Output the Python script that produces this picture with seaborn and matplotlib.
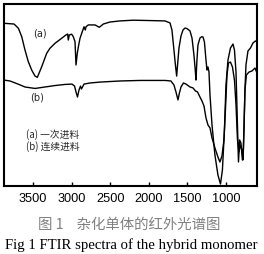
import matplotlib
matplotlib.use("Agg")
import matplotlib.pyplot as plt
import seaborn as sns
import pandas as pd

# ---- data (wavenumber cm-1, relative transmittance) ----
wn_a = [3876, 3746, 3690, 3646, 3604, 3561, 3517, 3474, 3444, 3387, 3323, 3280,
        3215, 3128, 3073, 3051, 3043, 3030, 2999, 2978, 2956, 2943, 2926, 2908,
        2891, 2869, 2839, 2823, 2813, 2784, 2697, 2641, 2589, 2503, 2373, 2201,
        1985, 1790, 1725, 1700, 1674, 1655, 1639, 1622, 1609, 1583, 1557, 1531,
        1505, 1466, 1440, 1415, 1398, 1389, 1376, 1363, 1337, 1315, 1298, 1279,
        1259, 1246, 1233, 1220, 1207, 1181, 1143, 1104, 1071, 1046, 1020, 1000,
        974, 942, 909, 890, 870, 853, 838, 823, 806, 787, 774, 754, 741, 715,
        683, 650, 618, 598]
t_a = [89.4, 89.0, 86.7, 82.0, 74.7, 68.3, 63.7, 60.4, 59.7, 65.6, 72.9, 75.7,
       78.4, 81.2, 83.0, 83.5, 80.2, 83.0, 83.4, 82.0, 79.3, 66.5, 73.1, 77.5,
       81.2, 83.9, 87.5, 85.7, 87.5, 88.5, 88.5, 87.2, 89.0, 90.1, 90.7, 91.1,
       90.9, 90.7, 89.6, 85.7, 74.7, 66.5, 60.4, 69.2, 75.8, 82.4, 85.7, 86.8,
       86.5, 85.2, 81.3, 72.0, 63.7, 58.2, 69.2, 77.5, 81.3, 82.0, 81.9, 79.1,
       69.2, 63.7, 65.4, 62.6, 50.0, 33.5, 17.0, 6.0, 1.1, 8.8, 30.8, 55.5,
       69.2, 75.8, 78.0, 74.7, 62.6, 36.3, 13.2, 25.3, 23.6, 14.3, 19.8, 52.8,
       66.5, 74.2, 75.8, 78.6, 79.7, 79.1]

wn_b = [3876, 3798, 3694, 3604, 3474, 3345, 3215, 3086, 2995, 2962, 2943, 2924,
        2904, 2885, 2872, 2859, 2839, 2762, 2632, 2373, 2114, 1790, 1713, 1674,
        1648, 1622, 1603, 1583, 1551, 1518, 1466, 1428, 1395, 1369, 1337, 1311,
        1285, 1259, 1233, 1207, 1181, 1143, 1104, 1078, 1052, 1026, 1007, 987,
        968, 942, 916, 890, 870, 851, 832, 812, 793, 780, 767, 754, 735, 702,
        663, 624, 598]
t_b = [58.2, 57.7, 56.0, 54.4, 53.6, 54.4, 55.2, 55.8, 56.0, 54.9, 51.7, 48.9,
       52.8, 54.9, 53.3, 54.4, 56.0, 56.6, 57.1, 57.7, 58.0, 58.0, 57.7, 55.5,
       51.7, 47.3, 51.1, 54.4, 56.6, 56.0, 54.4, 53.9, 52.2, 51.7, 48.9, 46.7,
       44.0, 37.4, 33.5, 31.9, 26.4, 20.9, 15.9, 13.2, 16.5, 25.3, 41.8, 61.0,
       67.6, 68.1, 65.4, 58.2, 44.5, 25.3, 18.7, 22.5, 19.8, 14.3, 30.8, 52.8,
       61.0, 62.6, 63.2, 64.8, 62.1]

x_ticks = [3500, 3000, 2500, 2000, 1500, 1000]
curve_labels = ["(a)", "(b)"]
legend_lines = ["(a) 一次进料", "(b) 连续进料"]
caption_cn = "图 1    杂化单体的红外光谱图"
caption_en = "Fig 1 FTIR spectra of the hybrid monomer"

sns.set_theme(style="white")
plt.rcParams['font.family'] = ['Liberation Sans', 'DejaVu Sans']

W, H = 264, 254
fig = plt.figure(figsize=(W / 100, H / 100), dpi=100)
fig.patch.set_facecolor("white")
ax = fig.add_axes([4 / W, 1 - 186 / H, 253 / W, 182 / H])

df_a = pd.DataFrame({"wn": wn_a, "t": t_a})
df_b = pd.DataFrame({"wn": wn_b, "t": t_b})
sns.lineplot(data=df_a, x="wn", y="t", ax=ax, color="black", lw=1.0,
             estimator=None, sort=False)
sns.lineplot(data=df_b, x="wn", y="t", ax=ax, color="black", lw=1.0,
             estimator=None, sort=False)

ax.set_xlim(3876, 598)
ax.set_ylim(0, 100)
ax.set_xticks(x_ticks)
ax.set_xticklabels([str(v) for v in x_ticks])
ax.set_yticks([])
ax.set_xlabel("")
ax.set_ylabel("")
ax.tick_params(axis="x", direction="in", length=3, width=1, pad=5,
               labelsize=9.2, colors="black", bottom=True)
for s in ax.spines.values():
    s.set_color("black")
    s.set_linewidth(1.5)

def px(x, y):
    return x / W, 1 - y / H

fig.text(*px(40, 33), curve_labels[0], fontsize=7, ha="center", va="center",
         family=['DejaVu Sans'])
fig.text(*px(37.5, 98), curve_labels[1], fontsize=7, ha="center", va="center",
         family=['DejaVu Sans'])

cjk = ['Noto Sans CJK SC', 'DejaVu Sans']
fig.text(*px(26, 135), legend_lines[0], fontsize=7, ha="left", va="center",
         family=cjk)
fig.text(*px(26, 147), legend_lines[1], fontsize=7, ha="left", va="center",
         family=cjk)

fig.text(*px(129, 225), caption_cn, fontsize=10.4, ha="center", va="center",
         family=cjk, color="#808080")
fig.text(*px(131, 245), caption_en, fontsize=10.6, ha="center", va="center",
         family=['Liberation Serif', 'DejaVu Serif'], color="black")

fig.savefig("out.png", dpi=100, facecolor="white")
